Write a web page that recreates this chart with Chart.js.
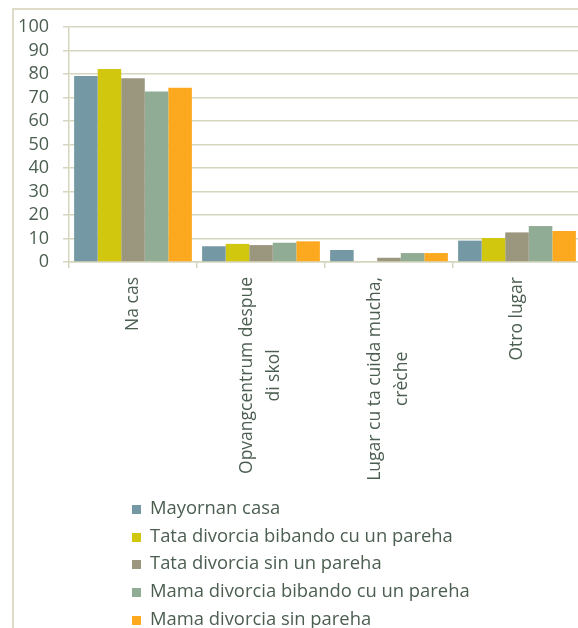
<!DOCTYPE html>
<html>
<head>
<meta charset="utf-8">
<script src="https://cdn.jsdelivr.net/npm/chart.js@4/dist/chart.umd.min.js"></script>
<style>
  body { margin: 0; width: 578px; height: 628px; overflow: hidden; background: #fff; position: relative; font-family: "Open Sans", sans-serif; }
  #frame { position: absolute; left: 12px; top: 8px; width: 700px; height: 700px; border-left: 2px solid #DEDCC9; border-top: 2px solid #DEDCC9; }
  #chart { position: absolute; left: 0; top: 0; }
  #legend { position: absolute; left: 132px; top: 493px; color: #4B5E50; font-size: 18.4px; }
  #legend div { height: 27.7px; line-height: 27.7px; white-space: nowrap; }
  #legend span { display: inline-block; width: 9px; height: 9px; margin-right: 9px; vertical-align: 0px; }
</style>
</head>
<body>
<div id="frame"></div>
<canvas id="chart" width="590" height="628"></canvas>
<div id="legend"></div>
<script>
const categories = [
    ["Na cas"],
    ["Opvangcentrum despue", "di skol"],
    ["Lugar cu ta cuida mucha,", "crèche"],
    ["Otro lugar"]
];
const seriesNames = [
    "Mayornan casa",
    "Tata divorcia bibando cu un pareha",
    "Tata divorcia sin un pareha",
    "Mama divorcia bibando cu un pareha",
    "Mama divorcia sin pareha"
];
const colors = ["#7598A5", "#D1C70E", "#9B977E", "#90AC95", "#FDA91F"];

const mayornanCasa = [79.1, 6.7, 5.1, 9.1];
const tataBibando = [82.1, 7.7, null, 10.2];
const tataSin = [78.2, 7.2, 1.8, 12.6];
const mamaBibando = [72.6, 8.2, 3.8, 15.3];
const mamaSin = [74.2, 8.8, 3.8, 13.2];
const seriesValues = [mayornanCasa, tataBibando, tataSin, mamaBibando, mamaSin];

const yTicks = [0, 10, 20, 30, 40, 50, 60, 70, 80, 90, 100];

const textColor = "#4B5E50";
const gridColor = "#D6D5BE";
const fontFamily = "'Open Sans', sans-serif";

// x labels: rotated, lines centred like Excel does it
const rotatedLabels = {
    id: "rotatedLabels",
    afterDraw(chart) {
        const ctx = chart.ctx;
        const xScale = chart.scales.x;
        const top = 277;
        const lineGap = 27;
        ctx.save();
        ctx.font = "17.5px " + fontFamily;
        ctx.fillStyle = textColor;
        ctx.textAlign = "center";
        ctx.textBaseline = "middle";
        categories.forEach((lines, i) => {
            const cx = xScale.getPixelForTick(i);
            const w = Math.max(...lines.map(l => ctx.measureText(l).width));
            lines.forEach((line, j) => {
                const off = (j - (lines.length - 1) / 2) * lineGap;
                ctx.save();
                ctx.translate(cx + off, top + w / 2);
                ctx.rotate(-Math.PI / 2);
                ctx.fillText(line, 0, 0);
                ctx.restore();
            });
        });
        ctx.restore();
    }
};

const datasets = seriesNames.map((name, i) => ({
    label: name,
    data: seriesValues[i],
    backgroundColor: colors[i],
    borderWidth: 0,
    categoryPercentage: 0.92,
    barPercentage: 1.0
}));

new Chart(document.getElementById("chart"), {
    type: "bar",
    data: {
        labels: categories.map(c => c.join(" ")),
        datasets: datasets
    },
    options: {
        responsive: false,
        animation: false,
        layout: { padding: { top: 27, right: 9, bottom: 0, left: 0 } },
        plugins: {
            legend: { display: false },
            tooltip: { enabled: false }
        },
        scales: {
            x: {
                grid: {
                    offset: true,
                    drawOnChartArea: false,
                    drawTicks: true,
                    tickLength: 6,
                    color: gridColor,
                    lineWidth: 1.5
                },
                border: { color: gridColor, width: 1.5 },
                ticks: { display: false },
                afterFit: (scale) => { scale.height = 366; }
            },
            y: {
                min: 0,
                max: 100,
                afterBuildTicks: (scale) => { scale.ticks = yTicks.map(v => ({ value: v })); },
                grid: { color: gridColor, lineWidth: 1.5, tickLength: 6 },
                border: { color: gridColor, width: 1.5 },
                ticks: {
                    color: textColor,
                    padding: 14,
                    autoSkip: false,
                    font: { family: fontFamily, size: 18 }
                },
                afterFit: (scale) => { scale.width = 69; }
            }
        }
    },
    plugins: [rotatedLabels]
});

const legend = document.getElementById("legend");
seriesNames.forEach((name, i) => {
    const row = document.createElement("div");
    const box = document.createElement("span");
    box.style.background = colors[i];
    row.appendChild(box);
    row.appendChild(document.createTextNode(name));
    legend.appendChild(row);
});
</script>
</body>
</html>
